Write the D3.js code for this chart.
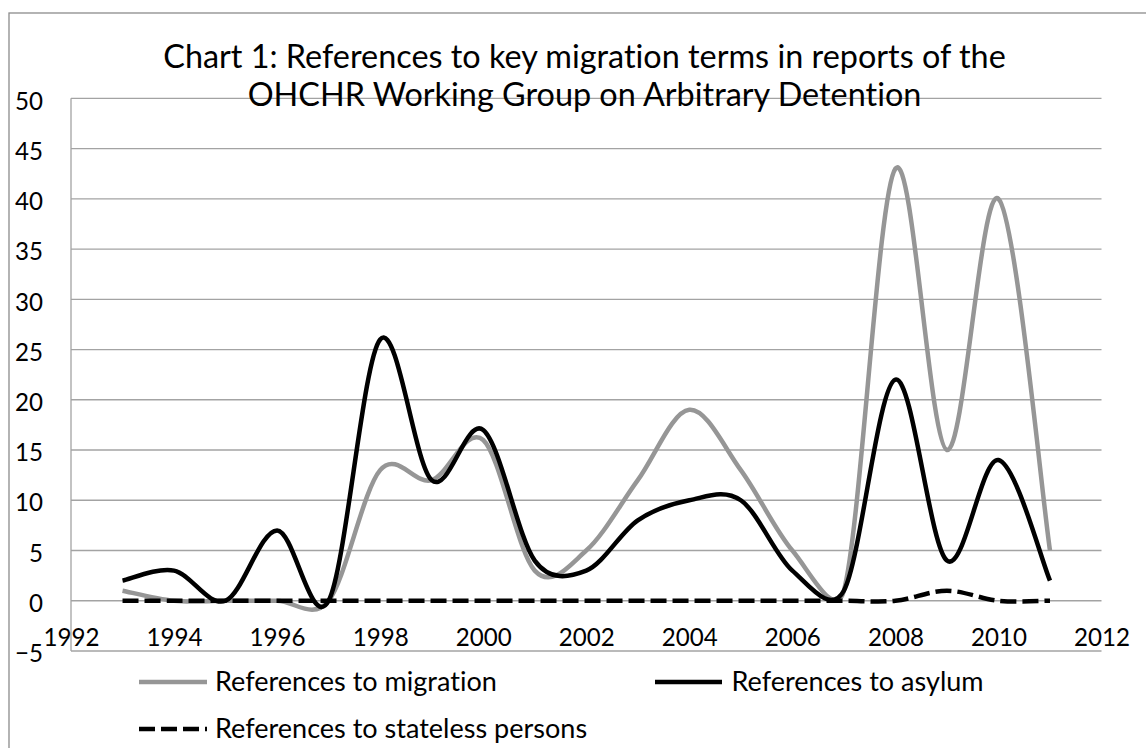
<!DOCTYPE html>
<html>
<head>
<meta charset="utf-8">
<script src="https://cdn.jsdelivr.net/npm/d3@7"></script>
<style>
  html, body { margin: 0; padding: 0; background: #fff; }
  svg { display: block; }
  text { font-family: Lato, "Open Sans", sans-serif; fill: #000; font-variant-ligatures: none; font-feature-settings: "liga" 0, "clig" 0; }
</style>
</head>
<body>
<svg id="chart" width="1146" height="748"></svg>
<script>
const years = [1993,1994,1995,1996,1997,1998,1999,2000,2001,2002,2003,2004,2005,2006,2007,2008,2009,2010,2011];
const migration = [1,0,0,0,0,13,12,16,3,5,12,19,13,5,1,43,15,40,5];
const asylum    = [2,3,0,7,0,26,12,17,4,3,8,10,10,3,1,22,4,14,2];
const stateless = [0,0,0,0,0,0,0,0,0,0,0,0,0,0,0,0,1,0,0];
const xTicks = [1992,1994,1996,1998,2000,2002,2004,2006,2008,2010,2012];
const yTicks = [-5,0,5,10,15,20,25,30,35,40,45,50];
const titleLines = ["Chart 1: References to key migration terms in reports of the",
                    "OHCHR Working Group on Arbitrary Detention"];
const seriesNames = ["References to migration", "References to asylum", "References to stateless persons"];

const svg = d3.select("#chart");

// Spreadsheet-style smoothing: Catmull-Rom Bezier, handles capped at half the segment length
function curveSmoothCapped(context) {
  let pts = [];
  return {
    areaStart() {}, areaEnd() {},
    lineStart() { pts = []; },
    point(x, y) { pts.push([+x, +y]); },
    lineEnd() {
      const n = pts.length;
      if (!n) return;
      context.moveTo(pts[0][0], pts[0][1]);
      if (n === 1) return;
      const P = i => pts[Math.max(0, Math.min(n - 1, i))];
      const dist = (a, b) => Math.hypot(b[0] - a[0], b[1] - a[1]);
      for (let i = 0; i < n - 1; i++) {
        const p0 = P(i - 1), p1 = P(i), p2 = P(i + 1), p3 = P(i + 2);
        const d12 = dist(p1, p2), d02 = dist(p0, p2), d13 = dist(p1, p3);
        let f0 = 1 / 6, f1 = 1 / 6;
        if (d02 / 6 > d12 / 2 && d02 > 0) f0 = d12 / 2 / d02;
        if (d13 / 6 > d12 / 2 && d13 > 0) f1 = d12 / 2 / d13;
        const c1 = [p1[0] + (p2[0] - p0[0]) * f0, p1[1] + (p2[1] - p0[1]) * f0];
        const c2 = [p2[0] - (p3[0] - p1[0]) * f1, p2[1] - (p3[1] - p1[1]) * f1];
        context.bezierCurveTo(c1[0], c1[1], c2[0], c2[1], p2[0], p2[1]);
      }
    }
  };
}

// chart area border
svg.append("rect").attr("x", 9).attr("y", 13).attr("width", 1200).attr("height", 800)
  .attr("fill", "none").attr("stroke", "#8c8c8c").attr("stroke-width", 1.3);

const x = d3.scaleLinear().domain([1992, 2012]).range([71, 1101.5]);
const y = d3.scaleLinear().domain([-5, 50]).range([651, 98.3]);

function fitSize(str, target) {
  const t = svg.append("text").attr("font-size", 100).text(str);
  const len = t.node().getComputedTextLength();
  t.remove();
  return 100 * target / len;
}
const titleSize = fitSize(titleLines[0], 843);
const legendSize = fitSize(seriesNames[0], 282);
const tickSize = fitSize("2012", 56);

// gridlines
svg.append("g").selectAll("line").data(yTicks).join("line")
  .attr("x1", x(1992)).attr("x2", x(2012))
  .attr("y1", d => y(d)).attr("y2", d => y(d))
  .attr("stroke", "#a3a3a3").attr("stroke-width", 1.3);
// vertical axis line
svg.append("line").attr("x1", x(1992)).attr("x2", x(1992))
  .attr("y1", y(-5)).attr("y2", y(50))
  .attr("stroke", "#a3a3a3").attr("stroke-width", 1.3);

// y axis labels
const yAxis = d3.axisLeft(y).tickValues(yTicks).tickSize(0).tickPadding(0).tickFormat(d3.format("d"));
const gy = svg.append("g").attr("transform", "translate(43,0)").call(yAxis);
gy.select(".domain").remove();
gy.selectAll("text").attr("font-size", tickSize).attr("font-family", "Lato, 'Open Sans', sans-serif")
  .attr("fill", "#000").attr("dy", "0.32em").attr("y", 3);

// x axis labels (axis crosses at 0)
const xAxis = d3.axisBottom(x).tickValues(xTicks).tickSize(0).tickPadding(0).tickFormat(d3.format("d"));
const gx = svg.append("g").attr("transform", `translate(0,${y(0)})`).call(xAxis);
gx.select(".domain").remove();
gx.selectAll("text").attr("font-size", tickSize).attr("font-family", "Lato, 'Open Sans', sans-serif")
  .attr("fill", "#000").attr("dy", 0).attr("y", 45);

// lines
const line = d3.line().x((d, i) => x(years[i])).y(d => y(d)).curve(curveSmoothCapped);
svg.append("path").datum(migration).attr("d", line)
  .attr("fill", "none").attr("stroke", "#969696").attr("stroke-width", 4.5).attr("stroke-linejoin", "round");
svg.append("path").datum(asylum).attr("d", line)
  .attr("fill", "none").attr("stroke", "#000").attr("stroke-width", 4.5).attr("stroke-linejoin", "round");
svg.append("path").datum(stateless).attr("d", line)
  .attr("fill", "none").attr("stroke", "#000").attr("stroke-width", 4.5)
  .attr("stroke-dasharray", "16,6");

// title
const title = svg.append("text").attr("text-anchor", "middle").attr("font-size", titleSize);
title.append("tspan").attr("x", 584.5).attr("y", 68).text(titleLines[0]);
title.append("tspan").attr("x", 584.5).attr("y", 106).text(titleLines[1]);

// legend
const legendItems = [
  {name: seriesNames[0], x1: 139, x2: 207, tx: 215, y: 682, color: "#969696", dash: null},
  {name: seriesNames[1], x1: 655, x2: 722, tx: 731.5, y: 682, color: "#000", dash: null},
  {name: seriesNames[2], x1: 139, x2: 207, tx: 215, y: 729, color: "#000", dash: "16,6"}
];
const lg = svg.append("g").selectAll("g").data(legendItems).join("g");
lg.append("line").attr("x1", d => d.x1).attr("x2", d => d.x2)
  .attr("y1", d => d.y).attr("y2", d => d.y)
  .attr("stroke", d => d.color).attr("stroke-width", 4.5)
  .attr("stroke-dasharray", d => d.dash);
lg.append("text").attr("x", d => d.tx).attr("y", d => d.y).attr("dy", "0.35em")
  .attr("font-size", legendSize).text(d => d.name);
</script>
</body>
</html>
